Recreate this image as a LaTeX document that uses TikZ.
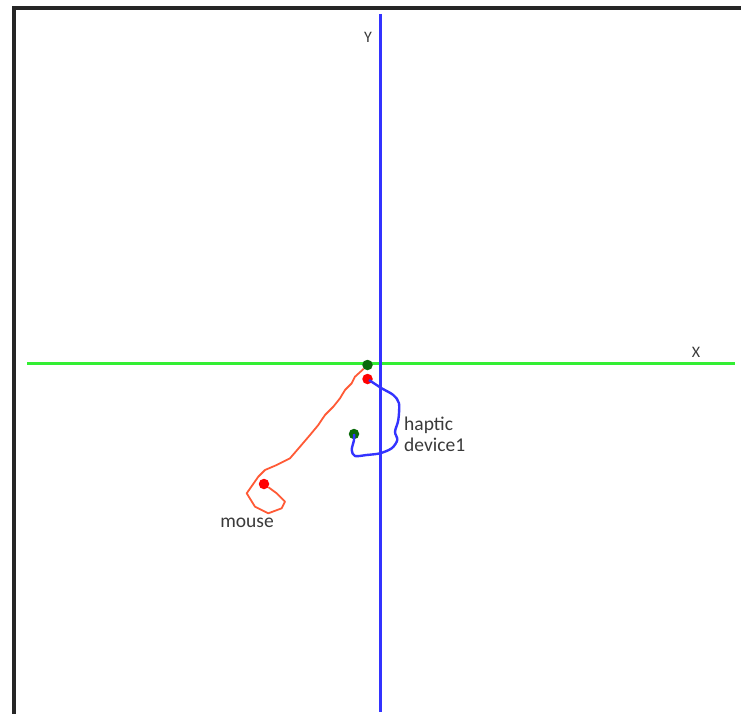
\documentclass[tikz,border=0pt]{standalone}
\usepackage{fontspec}
\setmainfont{Carlito}
\usepackage{xcolor}
\usepackage{tikz}
\definecolor{axegreen}{HTML}{33EE33}
\definecolor{axeblue}{HTML}{3333FF}
\definecolor{traceorange}{HTML}{FF5A36}
\definecolor{dotgreen}{HTML}{0A6A0A}
\definecolor{labelgray}{HTML}{3A3A3A}

\begin{document}
\begin{tikzpicture}[x=1pt, y=-1pt,
  dot/.style={circle, inner sep=0pt, minimum size=10.5pt},
  lbl/.style={text=labelgray, font=\fontsize{19.5}{21}\selectfont, inner sep=0pt, align=left}]
\useasboundingbox (0,0) rectangle (741,714);

% Cadre noir (haut et gauche)
\draw[line width=4pt, black!85] (14,714) -- (14,8) -- (741,8);

% Axes
\draw[line width=3pt, axegreen] (27,363) -- (735,363);
\draw[line width=3pt, axeblue] (380,14) -- (380,712);
\node[lbl, font=\fontsize{16}{18}\selectfont] (ylab) at (368,37) {Y};
\node[lbl, font=\fontsize{16}{18}\selectfont] (xlab) at (696,352) {X};

% Points de départ et d'arrivée
\node[dot, fill=dotgreen] (origin) at (367.5,365) {};
\node[dot, fill=red] (hstart) at (367.5,379) {};
\node[dot, fill=dotgreen] (hend) at (354,434) {};
\node[dot, fill=red] (mend) at (264,484) {};

% Trajectoire de la souris
\draw[traceorange, line width=1.8pt, line join=round] (origin.south west)
  -- (355,376.7) -- (351.7,383.3) -- (345,390) -- (340,398.3) -- (333.3,406.7)
  -- (325,415) -- (318.3,425) -- (310,435) -- (300,446.7) -- (290,458.3)
  -- (276.7,465) -- (265,470) -- (258.3,476.7) -- (246.7,493.3) -- (255,506.7)
  -- (268.3,513.3) -- (281.7,508.3) -- (285,501.7) -- (276.7,493.3) -- (mend);

% Trajectoire du dispositif haptique
\draw[axeblue, line width=2.4pt, line join=round] plot[smooth, tension=0.5] coordinates {
  (369,380) (381.7,388.3) (393.3,395) (399,403.3) (398.3,420) (395,431.7)
  (397.3,440) (391.7,448.3) (380,453.3) (366.7,455) (355,456) (351.7,450)
  (354,440) (354,434)};

% Légendes
\node[lbl, anchor=west] (hlab) at (404,434) {haptic\\device1};
\node[lbl] (mlab) at (247,523) {mouse};
\end{tikzpicture}
\end{document}
